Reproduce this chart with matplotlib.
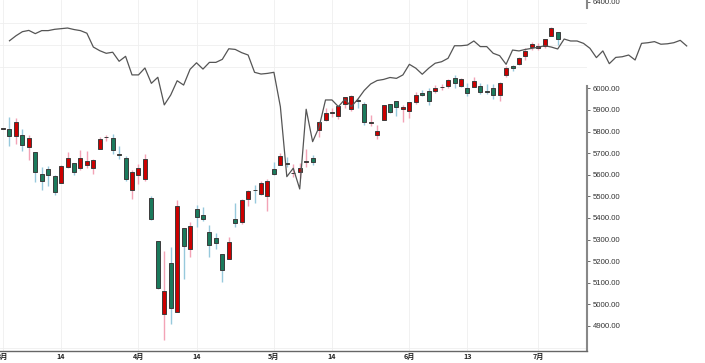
import matplotlib
matplotlib.use('Agg')
import matplotlib.pyplot as plt
import numpy as np

# ---- data (trading-day index 0 = 3 Mar) ----
opens = [5813, 5811.98, 5781.41, 5785.87, 5726.01, 5705.37, 5603.65, 5624.84, 5594.45, 5563.85,
         5635.60, 5654.53, 5632.37, 5646.92, 5630.73, 5718.08, 5775.48, 5771.66, 5695.64, 5679.52,
         5527.91, 5597.53, 5580.76, 5492.74, 5292.14, 4953.79, 5193.57, 4965.28, 5353.15, 5255.56,
         5441.96, 5411.99, 5335.75, 5305.45, 5232.94, 5207.67, 5395.92, 5381.38, 5489.73, 5529.22,
         5508.87, 5499.44, 5625.14, 5645.09, 5655.32, 5605.88, 5614.67, 5660.00, 5679.44, 5807.11,
         5854.73, 5886.55, 5869.76, 5929.12, 5902.88, 5944.66, 5928.24, 5841.26, 5781.89, 5854.07,
         5925.54, 5939.30, 5903.67, 5896.68, 5938.56, 5978.94, 5985.67, 5987.06, 6004.60, 6009.91,
         6049.38, 6009.90, 6000.56, 6004.00, 6012.15, 5987.93, 5999.67, 5969.67, 6061.21, 6104.18,
         6112.10, 6150.70, 6193.36, 6187.25, 6193.57, 6240.33, 6259.75]
highs = [5818, 5865.08, 5860.59, 5812.08, 5783.01, 5705.37, 5636.30, 5642.19, 5597.78, 5645.27,
         5703.52, 5654.53, 5715.33, 5711.15, 5670.84, 5775.14, 5783.33, 5786.95, 5732.28, 5685.89,
         5623.48, 5650.57, 5695.31, 5499.53, 5292.14, 5246.57, 5267.47, 5481.34, 5353.15, 5381.46,
         5459.46, 5450.41, 5367.24, 5328.31, 5232.94, 5309.60, 5469.69, 5489.40, 5528.11, 5553.66,
         5571.95, 5581.84, 5658.91, 5700.70, 5683.92, 5649.44, 5654.65, 5720.10, 5691.11, 5844.19,
         5906.63, 5906.63, 5924.60, 5958.62, 5968.61, 5953.06, 5938.37, 5878.08, 5829.51, 5924.33,
         5929.00, 5943.13, 5922.14, 5937.40, 5981.35, 5990.48, 5999.70, 6016.87, 6021.31, 6043.01,
         6059.40, 6045.43, 6026.16, 6050.83, 6023.25, 6018.20, 6018.20, 6028.81, 6101.72, 6108.51,
         6146.52, 6187.68, 6215.08, 6210.78, 6227.60, 6284.65, 6262.43]
lows = [5810, 5732.59, 5742.35, 5711.64, 5666.29, 5564.02, 5528.41, 5546.09, 5504.65, 5563.85,
        5631.12, 5597.76, 5622.20, 5632.77, 5603.10, 5718.08, 5756.37, 5694.41, 5670.94, 5572.42,
        5488.73, 5558.52, 5571.48, 5390.83, 5069.90, 4835.04, 4910.42, 4965.28, 5115.27, 5220.77,
        5358.02, 5386.44, 5220.79, 5255.58, 5101.63, 5207.67, 5356.16, 5371.96, 5455.86, 5468.64,
        5505.70, 5433.24, 5597.35, 5644.92, 5634.48, 5589.08, 5584.20, 5635.85, 5644.47, 5775.28,
        5846.99, 5868.00, 5855.76, 5907.36, 5895.69, 5909.26, 5830.91, 5825.82, 5767.41, 5854.07,
        5886.81, 5873.80, 5843.66, 5861.43, 5929.00, 5966.11, 5921.20, 5978.63, 5994.18, 6000.26,
        6002.32, 6003.88, 5963.21, 6004.00, 5974.80, 5971.89, 5952.56, 5943.23, 6054.27, 6080.06,
        6107.80, 6132.35, 6177.97, 6177.97, 6188.29, 6240.33, 6201.67]
closes = [5815, 5778.15, 5842.63, 5738.52, 5770.20, 5614.56, 5572.07, 5599.30, 5521.52, 5638.94,
          5675.12, 5614.66, 5675.29, 5662.89, 5667.56, 5767.57, 5776.65, 5712.20, 5693.31, 5580.94,
          5611.85, 5633.07, 5670.97, 5396.52, 5074.08, 5062.25, 4982.77, 5456.90, 5268.05, 5363.36,
          5405.97, 5396.63, 5275.70, 5282.70, 5158.20, 5287.76, 5375.86, 5484.77, 5525.21, 5528.75,
          5560.83, 5569.06, 5604.14, 5686.67, 5650.38, 5606.91, 5631.28, 5663.94, 5659.91, 5844.19,
          5886.55, 5892.58, 5916.93, 5958.38, 5963.60, 5940.46, 5844.61, 5842.01, 5802.82, 5921.54,
          5888.55, 5912.17, 5911.69, 5935.94, 5970.37, 5970.81, 5939.30, 6000.36, 6005.88, 6038.81,
          6022.24, 6045.26, 5976.97, 6033.11, 5982.72, 5980.87, 5967.84, 6025.17, 6092.18, 6092.16,
          6141.02, 6173.07, 6204.95, 6198.01, 6227.42, 6279.35, 6229.98]

# overlay line, starting at trading-day index 1
line_start = 1
line_vals = [6220, 6243, 6262, 6268, 6253, 6267, 6267, 6273, 6276, 6279,
             6272, 6267, 6255, 6191, 6174, 6162, 6167, 6125, 6148, 6062,
             6062, 6094, 6023, 6051, 5923, 5969, 6035, 6015, 6088, 6118,
             6089, 6120, 6120, 6134, 6183, 6180, 6165, 6154, 6074, 6066,
             6069, 6074, 5915, 5591, 5630, 5534, 5903, 5753, 5820, 5946,
             5946, 5915, 5949, 5915, 5949, 5990, 6020, 6036, 6041, 6050,
             6046, 6062, 6111, 6093, 6065, 6093, 6116, 6123, 6139, 6197,
             6197, 6200, 6219, 6193, 6193, 6162, 6151, 6111, 6177, 6173,
             6180, 6185, 6190, 6197, 6191, 6182, 6228, 6219, 6219, 6208,
             6185, 6142, 6173, 6114, 6143, 6146, 6154, 6131, 6208, 6211,
             6216, 6204, 6206, 6211, 6222, 6196]

xtick_idx = [0, 9, 21, 30, 42, 51, 63, 72, 83]
xtick_labels = ['3月', '14', '4月', '14', '5月', '14', '6月', '13', '7月']
ytick_vals = [4900, 5000, 5100, 5200, 5300, 5400, 5500, 5600, 5700, 5800, 5900, 6000, 6400]
grid_levels = list(range(4800, 6500, 100))

# ---- figure ----
fig = plt.figure(figsize=(7.05, 3.63), dpi=100)
ax = fig.add_axes([0.0, 0.034, 0.8326, 0.966])

o = np.array(opens); h = np.array(highs); l = np.array(lows); c = np.array(closes)
x = np.arange(len(o))
up = c >= o
wick_col = np.where(up, '#f3a3b6', '#97c9dc')
body_col = np.where(up, '#cc0000', '#1b7a5c')

ax.vlines(x, l, h, colors=wick_col, linewidth=1.0, zorder=2)
ax.bar(x, c - o, bottom=o, width=0.62, color=body_col, edgecolor='#3c3c3c',
       linewidth=0.7, zorder=3)

lx = np.arange(line_start, line_start + len(line_vals))
ax.plot(lx, line_vals, color='#555555', linewidth=0.9, zorder=4, clip_on=False)

ax.set_xlim(-0.47, 90.54)
ax.set_ylim(4785.6, 6408.7)

ax.yaxis.tick_right()
ax.set_yticks(ytick_vals)
ax.set_yticklabels([f'{v:.2f}' for v in ytick_vals], fontsize=5.6,
                   family='Liberation Sans', color='#333333')
ax.set_yticks(grid_levels, minor=True)
ax.tick_params(axis='y', which='minor', length=0)
ax.tick_params(axis='y', which='major', length=2.5, width=0.6, color='#555555', pad=1.5)
ax.grid(axis='y', which='minor', color='#efefef', linewidth=0.6, zorder=0)

ax.set_xticks(xtick_idx)
ax.set_xticklabels(xtick_labels, fontsize=5.2, fontweight='bold',
                   family=['Noto Sans CJK SC', 'DejaVu Sans'], color='#222222')
ax.tick_params(axis='x', length=0, pad=2)
ax.grid(axis='x', which='major', color='#efefef', linewidth=0.6, zorder=0)
ax.set_axisbelow(True)

for s in ['top', 'left']:
    ax.spines[s].set_visible(False)
ax.spines['bottom'].set_color('#666666')
ax.spines['bottom'].set_linewidth(1.0)
ax.spines['right'].set_color('#888888')
ax.spines['right'].set_linewidth(1.5)
ax.spines['right'].set_bounds(4785.6, 6010)
ax.plot([1, 1], [6370, 6408.7], transform=ax.get_yaxis_transform(),
        color='#888888', linewidth=1.5, clip_on=False)

fig.savefig('out.png', dpi=100)
